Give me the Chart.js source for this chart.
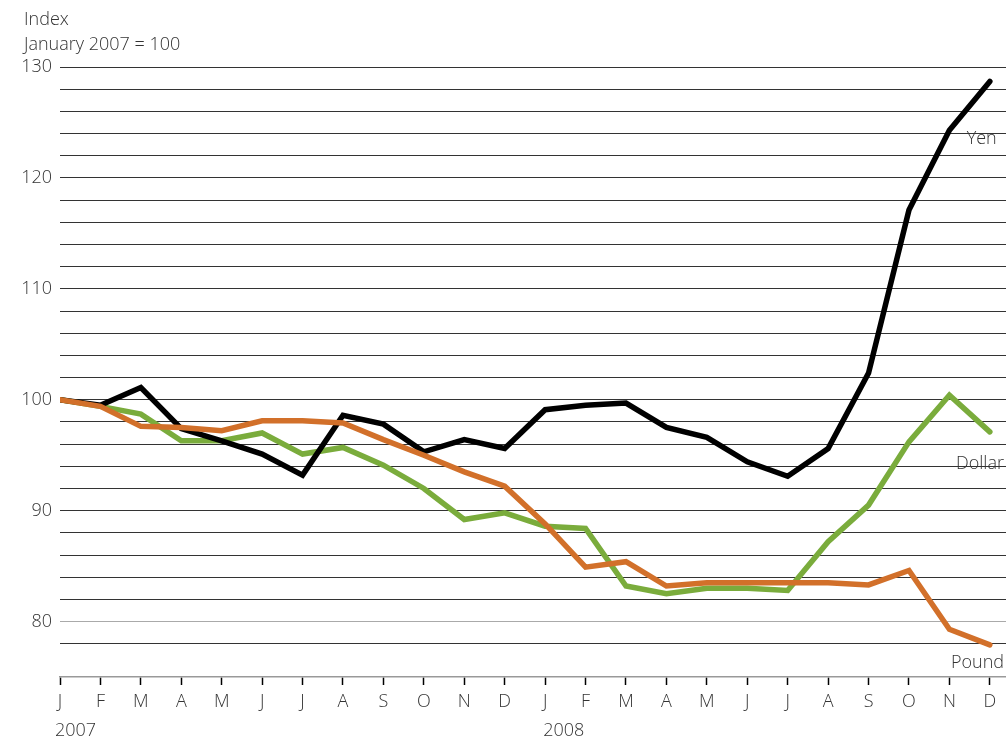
<!DOCTYPE html>
<html>
<head>
<meta charset="utf-8">
<script src="https://cdn.jsdelivr.net/npm/chart.js@4"></script>
<style>
  body { margin: 0; background: #fff; }
</style>
</head>
<body>
<canvas id="fx-chart" width="1006" height="739"></canvas>
<script>
// month ticks, Jan 2007 .. Dec 2008
const monthLabels = ["J","F","M","A","M","J","J","A","S","O","N","D",
                     "J","F","M","A","M","J","J","A","S","O","N","D"];
const yearLabels = ["2007", "2008"];

// index, January 2007 = 100
const yen = [100, 99.5, 101.1, 97.4, 96.3, 95.1, 93.2, 98.6, 97.8, 95.3, 96.4, 95.6,
             99.1, 99.5, 99.7, 97.5, 96.6, 94.4, 93.1, 95.6, 102.4, 117.1, 124.3, 128.7];
const dollar = [100, 99.4, 98.7, 96.3, 96.3, 97.0, 95.1, 95.7, 94.1, 92.0, 89.2, 89.8,
                88.6, 88.4, 83.2, 82.5, 83.0, 83.0, 82.8, 87.2, 90.5, 96.2, 100.4, 97.1];
const pound = [100, 99.4, 97.6, 97.5, 97.2, 98.1, 98.1, 97.9, 96.4, 95.0, 93.5, 92.2,
               88.8, 84.9, 85.4, 83.2, 83.5, 83.5, 83.5, 83.5, 83.3, 84.6, 79.3, 77.9];

const yTicks = [75];
for (let v = 78; v <= 130; v += 2) yTicks.push(v);

const FONT = "'Open Sans', 'Noto Sans', sans-serif";
const TXT = "#333";

const toPoints = arr => arr.map((v, i) => ({x: i, y: v}));

const textPlugin = {
    id: "extraText",
    afterDraw(chart) {
        const c = chart.ctx;
        const xs = chart.scales.x, ys = chart.scales.y;
        c.save();
        c.fillStyle = TXT;
        c.font = "300 18px " + FONT;
        c.textBaseline = "middle";
        c.textAlign = "left";
        c.fillText("Index", 24, 20);
        c.fillText("January 2007 = 100", 24, 45);
        // years under J
        c.fillText(yearLabels[0], xs.getPixelForValue(0) - 5, 731);
        c.fillText(yearLabels[1], xs.getPixelForValue(12) - 2, 731);
        // series names
        c.textAlign = "right";
        c.fillText("Yen", xs.getPixelForValue(23.17), ys.getPixelForValue(123.5));
        c.fillText("Dollar", xs.getPixelForValue(23.35), ys.getPixelForValue(94.2));
        c.fillText("Pound", xs.getPixelForValue(23.35), ys.getPixelForValue(76.3));
        c.restore();
    }
};

new Chart("fx-chart", {
    type: "line",
    data: {
        datasets: [
            { label: "Yen", data: toPoints(yen), borderColor: "#000", order: 1 },
            { label: "Dollar", data: toPoints(dollar), borderColor: "#7aac3c", order: 2 },
            { label: "Pound", data: toPoints(pound), borderColor: "#d2702a", order: 0 },
        ]
    },
    options: {
        responsive: false,
        animation: false,
        layout: { padding: { top: 67, right: 0, left: 0, bottom: 0 } },
        elements: {
            line: { borderWidth: 5.5, tension: 0, borderCapStyle: "round", borderJoinStyle: "miter", fill: false },
            point: { radius: 0, hoverRadius: 0 }
        },
        plugins: {
            legend: { display: false },
            title: { display: false },
            tooltip: { enabled: false }
        },
        scales: {
            x: {
                type: "linear",
                min: 0,
                max: 23.4,
                afterBuildTicks: s => { s.ticks = monthLabels.map((m, i) => ({value: i})); },
                afterFit: s => { s.height = 62; },
                grid: { drawOnChartArea: false, drawTicks: true, tickLength: 8, tickColor: "#000", tickWidth: 1.5 },
                border: { display: true, color: "#999", width: 1.5 },
                ticks: {
                    autoSkip: false, maxRotation: 0, padding: 6,
                    color: TXT, font: { family: FONT, size: 18, weight: 300 },
                    callback: v => monthLabels[v] ?? ""
                }
            },
            y: {
                min: 75,
                max: 130,
                afterBuildTicks: s => { s.ticks = yTicks.map(v => ({value: v})); },
                afterFit: s => { s.width = 60; },
                grid: {
                    drawTicks: false,
                    lineWidth: 1,
                    color: c => c.tick.value === 75 ? "rgba(0,0,0,0)" : (c.tick.value === 80 ? "#aaa" : "#333")
                },
                border: { display: false },
                ticks: {
                    autoSkip: false,
                    padding: 8, color: TXT, font: { family: FONT, size: 18, weight: 300 },
                    callback: v => v % 10 === 0 ? v : ""
                }
            }
        }
    },
    plugins: [textPlugin]
});
</script>
</body>
</html>
